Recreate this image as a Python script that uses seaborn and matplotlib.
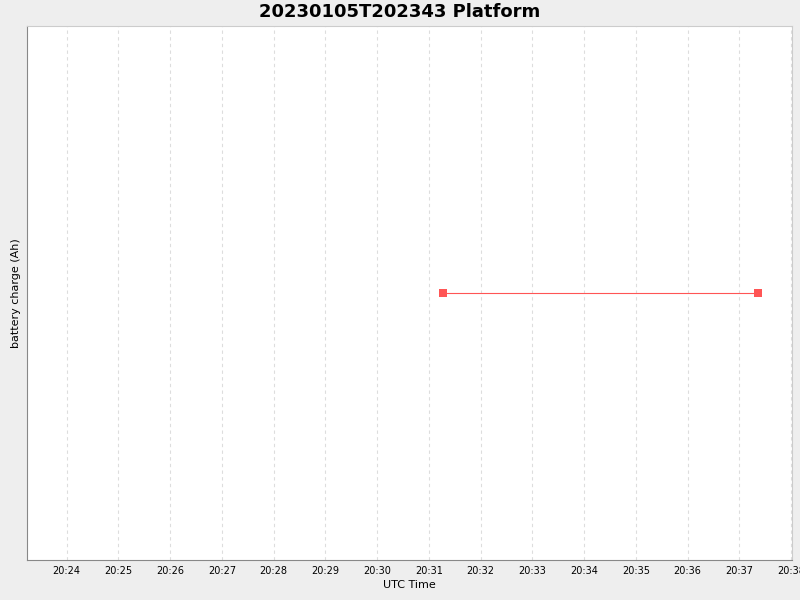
import matplotlib
matplotlib.use("Agg")
import matplotlib.pyplot as plt
import matplotlib.dates as mdates
import seaborn as sns
import pandas as pd

# data
times = ["2023-01-05 20:31:16", "2023-01-05 20:37:21"]
charge = [0.0, 0.0]
x_start = "2023-01-05 20:23:14"
x_end = "2023-01-05 20:38:01"
title = "20230105T202343 Platform"

df = pd.DataFrame({"time": pd.to_datetime(times), "charge": charge})

sns.set_style("white")
plt.rcParams["font.family"] = ["DejaVu Sans"]
plt.rcParams["text.color"] = "black"
plt.rcParams["axes.labelcolor"] = "black"
plt.rcParams["xtick.color"] = "black"

fig = plt.figure(figsize=(8, 6), dpi=100, facecolor="#EEEEEE")
ax = fig.add_axes([27 / 800, 40 / 600, 765 / 800, 534 / 600])
ax.set_facecolor("white")

sns.lineplot(data=df, x="time", y="charge", ax=ax, color="#FF5555",
             marker="s", markersize=5.5, markeredgewidth=0, linewidth=0.8)

ax.set_xlim(pd.Timestamp(x_start), pd.Timestamp(x_end))
ax.set_ylim(-1, 1)
ax.xaxis.set_major_locator(mdates.MinuteLocator())
ax.xaxis.set_major_formatter(mdates.DateFormatter("%H:%M"))
ax.set_yticks([])
ax.tick_params(axis="x", labelsize=7, length=2, width=0.8, color="#888888",
               labelcolor="black", pad=2)
ax.grid(axis="x", color="#DDDDDD", linestyle=(0, (3, 3)), linewidth=0.8)

for side in ["top", "right"]:
    ax.spines[side].set_color("#CCCCCC")
    ax.spines[side].set_linewidth(0.8)
for side in ["left", "bottom"]:
    ax.spines[side].set_color("#888888")
    ax.spines[side].set_linewidth(0.8)

ax.set_xlabel("UTC Time", fontsize=8, labelpad=3, color="black")
ax.set_ylabel("battery charge (Ah)", fontsize=8, labelpad=4, color="black")
fig.suptitle(title, fontsize=13, fontweight="bold", color="black", y=0.98, va="center")

fig.savefig("out.png", dpi=100, facecolor=fig.get_facecolor())
